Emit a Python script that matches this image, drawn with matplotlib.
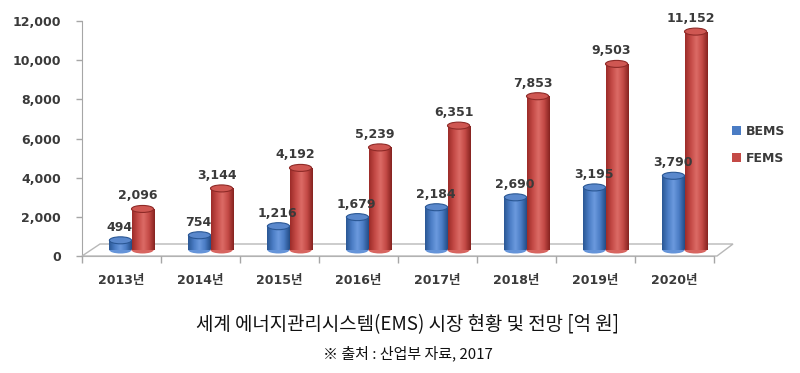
import matplotlib
matplotlib.use('Agg')
import matplotlib.pyplot as plt
import numpy as np
from matplotlib.transforms import ScaledTranslation, IdentityTransform
from matplotlib.patches import Polygon, Ellipse, Patch
from matplotlib.colors import LinearSegmentedColormap

# ---- data ----
years = ['2013년', '2014년', '2015년', '2016년', '2017년', '2018년', '2019년', '2020년']
bems = [494, 754, 1216, 1679, 2184, 2690, 3195, 3790]
fems = [2096, 3144, 4192, 5239, 6351, 7853, 9503, 11152]
yticks = [0, 2000, 4000, 6000, 8000, 10000, 12000]
series_names = ['BEMS', 'FEMS']

title = '세계 에너지관리시스템(EMS) 시장 현황 및 전망 [억 원]'
subtitle = '※ 출처 : 산업부 자료, 2017'

# ---- style ----
FONT_NUM = ['DejaVu Sans', 'Noto Sans CJK KR']
FONT_KR = ['Noto Sans CJK KR', 'DejaVu Sans']
TXT = '#3a3a3a'
blue_cm = LinearSegmentedColormap.from_list('b', ['#2a5794', '#4a7cc4', '#6c9ade', '#4a7cc4', '#234c86'])
red_cm = LinearSegmentedColormap.from_list('r', ['#9c2c29', '#c44a46', '#dc6b66', '#c44a46', '#862320'])
blue_top = '#5a88cc'
red_top = '#cf5752'
blue_edge = '#2a5794'
red_edge = '#8e2a27'

W, H, DPI = 8.0, 3.73, 100
fig = plt.figure(figsize=(W, H), dpi=DPI)
fig.patch.set_facecolor('white')
ax_left, ax_right, ax_top, ax_bot = 82, 714, 21, 256
ax = fig.add_axes([ax_left / 800, 1 - ax_bot / 373, (ax_right - ax_left) / 800, (ax_bot - ax_top) / 373])
ax.set_facecolor('none')

n = len(years)
x = np.arange(n) + 0.5
bw = 0.28

# 3D depth offset (bars stand in middle of floor)
off = ScaledTranslation(10 / DPI, 6 / DPI, fig.dpi_scale_trans)
trans = ax.transData + off

ax.set_xlim(0, n)
ax.set_ylim(0, 12000)

# floor (decorative parallelogram), drawn inside the axes beneath the bars
p0 = ax.transAxes.transform((0, 0))
p1 = ax.transAxes.transform((1, 0))
floor = Polygon([p0, (p1[0] + 3, p1[1]), (p1[0] + 19, p1[1] + 12), (p0[0] + 18, p0[1] + 12)],
                closed=True, transform=IdentityTransform(), facecolor='white',
                edgecolor='#b8b8b8', lw=1.0, zorder=1, clip_on=False)
ax.add_patch(floor)

ell_h = 7 / 235 * 12000  # ellipse height in data units (~7 px)
grad = np.linspace(0, 1, 64).reshape(1, -1)


def cylinders(xs, vals, cm, topc, edgec, z):
    for xc, v in zip(xs, vals):
        x0 = xc - bw / 2
        bot = Ellipse((xc, 0), bw, ell_h, transform=trans, facecolor=cm(0.55), edgecolor='none', zorder=z)
        ax.add_patch(bot)
        body = ax.bar([xc], [v], width=bw, transform=trans, color='none', edgecolor='none', zorder=z)[0]
        im = ax.imshow(grad, extent=[x0, x0 + bw, 0, v], aspect='auto', cmap=cm,
                       transform=trans, zorder=z + 0.1, interpolation='bilinear')
        im.set_clip_path(body)
        top = Ellipse((xc, v), bw, ell_h, transform=trans, facecolor=topc, edgecolor=edgec, lw=0.8,
                      zorder=z + 0.2)
        ax.add_patch(top)


cylinders(x - bw / 2, bems, blue_cm, blue_top, blue_edge, 3)
cylinders(x + bw / 2, fems, red_cm, red_top, red_edge, 4)

ax.set_xlim(0, n)
ax.set_ylim(0, 12000)

# data labels
for xc, v in zip(x - bw / 2, bems):
    ax.annotate(f'{v:,}', xy=(xc, v), xycoords=trans, xytext=(-1, 13), textcoords='offset pixels',
                ha='center', va='center', fontsize=9, fontweight='bold', color=TXT,
                family=FONT_NUM, zorder=10)
for xc, v in zip(x + bw / 2, fems):
    ax.annotate(f'{v:,}', xy=(xc, v), xycoords=trans, xytext=(-5, 13), textcoords='offset pixels',
                ha='center', va='center', fontsize=9, fontweight='bold', color=TXT,
                family=FONT_NUM, zorder=10)

# axes styling
for s in ['top', 'right']:
    ax.spines[s].set_visible(False)
ax.spines['left'].set_color('#a6a6a6')
ax.spines['bottom'].set_color('#a6a6a6')
ax.spines['left'].set_zorder(0.5)
ax.spines['bottom'].set_zorder(0.5)
ax.set_yticks(yticks)
ax.set_yticklabels([f'{t:,}' for t in yticks])
ax.tick_params(axis='y', length=4, width=1, color='#a6a6a6', pad=11, labelsize=9, labelcolor=TXT)
for lab in ax.get_yticklabels():
    lab.set_fontweight('bold')
    lab.set_family(FONT_NUM)
ax.set_xticks(x)
ax.set_xticklabels(years)
ax.set_xticks(np.arange(n + 1), minor=True)
ax.tick_params(axis='x', which='major', length=0, pad=13, labelsize=9, labelcolor=TXT)
ax.tick_params(axis='x', which='minor', length=5, width=1, color='#a6a6a6')
for lab in ax.get_xticklabels():
    lab.set_fontweight('bold')
    lab.set_family(FONT_NUM)

# legend
handles = [Patch(facecolor='#4a7cc4', edgecolor='none'), Patch(facecolor='#c44a46', edgecolor='none')]
leg = fig.legend(handles, series_names, loc='center left', bbox_to_anchor=(721 / 800, 1 - 145 / 373),
                 frameon=False, handlelength=0.7, handleheight=0.7, handletextpad=0.4,
                 labelspacing=1.1, prop={'family': FONT_NUM, 'size': 9, 'weight': 'bold'})
for t in leg.get_texts():
    t.set_color(TXT)

# titles
fig.text(408 / 800, 1 - 325 / 373, title, ha='center', va='center', fontsize=13.6, family=FONT_KR,
         color='#111111')
fig.text(408 / 800, 1 - 353 / 373, subtitle, ha='center', va='center', fontsize=10.8, family=FONT_KR,
         color='#111111')

fig.savefig('out.png', dpi=DPI)
